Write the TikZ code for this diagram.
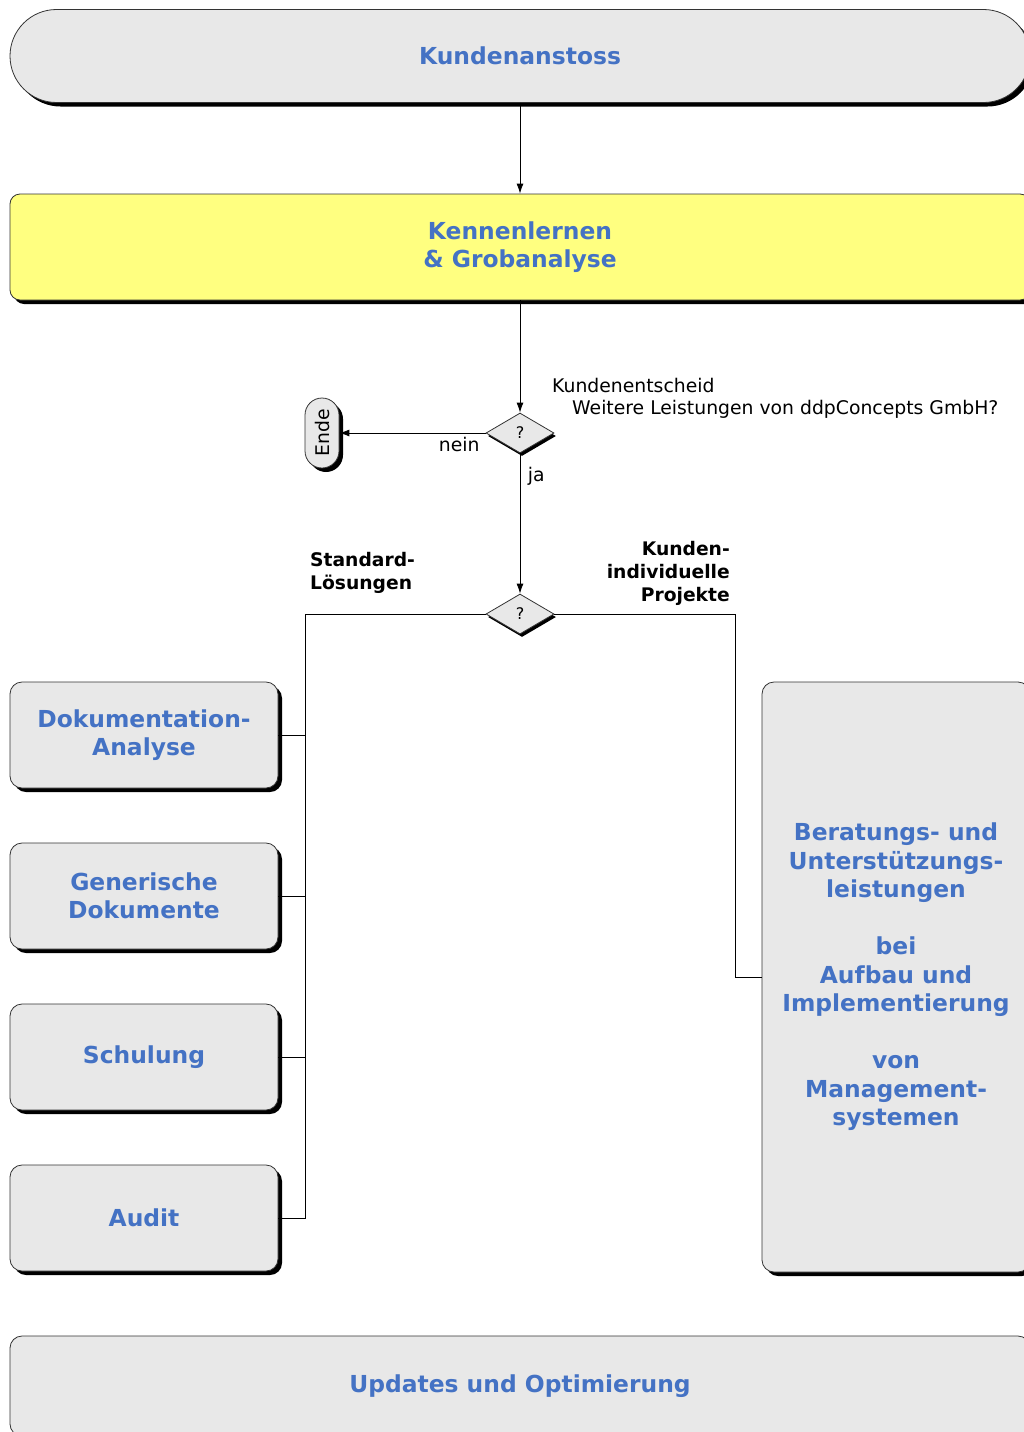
\documentclass[tikz,border=0pt]{standalone}
\usepackage{fontspec}
\setmainfont{DejaVu Sans}
\usepackage{graphicx}
\usepackage{tikz}
\usetikzlibrary{shapes.geometric, arrows, arrows.meta, positioning, shadows}
\definecolor{ddpblue}{RGB}{68, 114, 196}
\definecolor{ddpgray}{RGB}{232, 232, 232}
\definecolor{ddpyellow}{RGB}{255, 255, 128}

\begin{document}
\begin{tikzpicture}[x=1pt, y=-1pt,
  schatten/.style={drop shadow={shadow xshift=4pt, shadow yshift=-4pt, fill=black, opacity=1}},
  phase/.style={draw=black!80, line width=0.8pt, fill=ddpgray, rounded corners=12pt, schatten,
    text=ddpblue, font=\fontsize{23.4}{28.5}\selectfont\bfseries, align=center, inner sep=0pt},
  frage/.style={diamond, draw=black!80, fill=ddpgray, line width=0.8pt, minimum width=68pt,
    minimum height=40pt, inner sep=0pt, font=\fontsize{16}{18}\selectfont,
    drop shadow={shadow xshift=2pt, shadow yshift=-3pt, fill=black, opacity=1}},
  pfeil/.style={-{Latex[length=10pt, width=7pt]}, line width=0.9pt},
  linie/.style={line width=0.9pt},
  hinweis/.style={font=\fontsize{18.8}{22}\selectfont},
  zweig/.style={font=\fontsize{18.7}{23}\selectfont\bfseries, inner sep=0pt}
]
\useasboundingbox (0,0) rectangle (1024,1432);

\node[phase, minimum width=1020pt, minimum height=93pt, rounded corners=46.5pt] (anstoss) at (520,56) {Kundenanstoss};
\node[phase, fill=ddpyellow, minimum width=1020pt, minimum height=106pt, rounded corners=10pt] (kennen) at (520,247) {Kennenlernen\\\& Grobanalyse};

\node[frage] (frage1) at (520,433) {?};
\node[phase, minimum width=34pt, minimum height=70pt, rounded corners=17pt, text=black,
  font=\fontsize{18.8}{22}\selectfont] (ende) at (322,433) {\rotatebox{90}{Ende}};
\node[hinweis, anchor=west, align=left, inner sep=0pt] (entscheid) at (552,398)
  {Kundenentscheid\\\hspace*{20pt}Weitere Leistungen von ddpConcepts GmbH?};

\node[frage] (frage2) at (520,614) {?};
\node[zweig, anchor=west, align=left] (standard) at (310,573) {Standard-\\Lösungen};
\node[zweig, anchor=east, align=right] (individuell) at (730,573) {Kunden-\\individuelle\\Projekte};

\node[phase, minimum width=268pt, minimum height=106pt] (doku) at (144,735) {Dokumentation-\\Analyse};
\node[phase, minimum width=268pt, minimum height=106pt] (generisch) at (144,896) {Generische\\Dokumente};
\node[phase, minimum width=268pt, minimum height=106pt] (schulung) at (144,1057) {Schulung};
\node[phase, minimum width=268pt, minimum height=106pt] (audit) at (144,1218) {Audit};

\node[phase, minimum width=268pt, minimum height=590pt] (beratung) at (896,977)
  {Beratungs- und\\Unterstützungs-\\leistungen\\[28.5pt]bei\\Aufbau und\\Implementierung\\[28.5pt]von\\Management-\\systemen};

\node[phase, minimum width=1020pt, minimum height=100pt] (updates) at (520,1386) {Updates und Optimierung};

% Verbindungen
\draw[pfeil] (anstoss) -- (kennen);
\draw[pfeil] (kennen) -- (frage1);
\draw[pfeil] (frage1) -- node[hinweis, pos=0.18, below] (nein) {nein} (ende);
\draw[pfeil] (frage1) -- node[hinweis, pos=0.16, right=4pt] (ja) {ja} (frage2);

\coordinate (links) at (305,614);
\coordinate (rechts) at (735,614);
\draw[linie] (frage2.west) -- (links) |- (audit.east);
\draw[linie] (links |- doku.east) -- (doku.east);
\draw[linie] (links |- generisch.east) -- (generisch.east);
\draw[linie] (links |- schulung.east) -- (schulung.east);
\draw[linie] (frage2.east) -- (rechts) |- (beratung.west);
\end{tikzpicture}
\end{document}
